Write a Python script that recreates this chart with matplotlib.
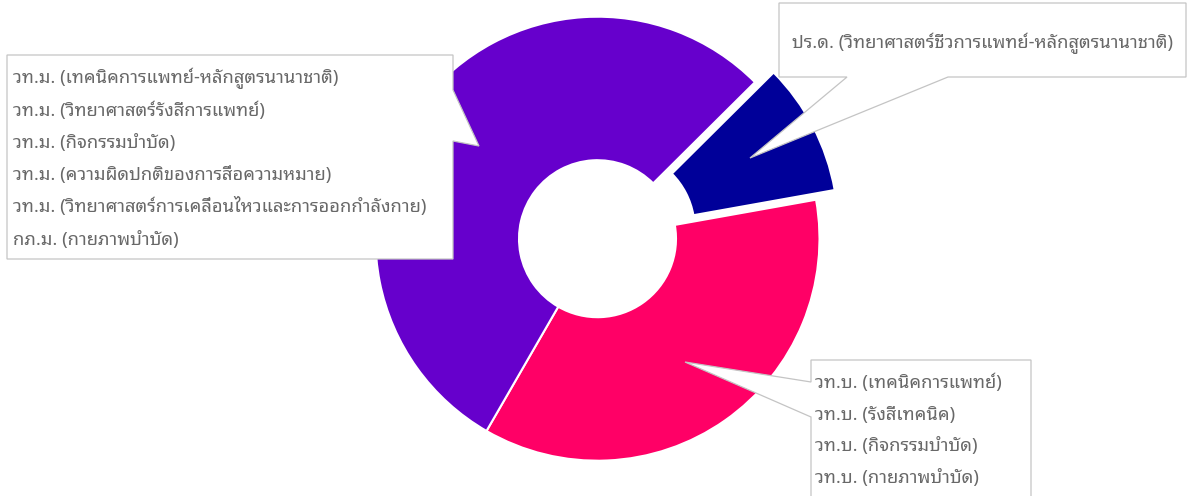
import matplotlib
matplotlib.use("Agg")
import matplotlib.pyplot as plt
from matplotlib.patches import Polygon

W, H = 1187, 496

# programme groups and their shares of the donut
groups = ["ป.ตรี", "ป.เอก", "ป.โท"]
values = [30, 8, 45]
colors = ["#FF0066", "#000099", "#6600CC"]
explode = [0, 21, 0]

master_labels = [
    "วท.ม. (เทคนิคการแพทย์-หลักสูตรนานาชาติ)",
    "วท.ม. (วิทยาศาสตร์รังสีการแพทย์)",
    "วท.ม. (กิจกรรมบำบัด)",
    "วท.ม. (ความผิดปกติของการสื่อความหมาย)",
    "วท.ม. (วิทยาศาสตร์การเคลื่อนไหวและการออกกำลังกาย)",
    "กภ.ม. (กายภาพบำบัด)",
]
phd_labels = ["ปร.ด. (วิทยาศาสตร์ชีวการแพทย์-หลักสูตรนานาชาติ)"]
bachelor_labels = [
    "วท.บ. (เทคนิคการแพทย์)",
    "วท.บ. (รังสีเทคนิค)",
    "วท.บ. (กิจกรรมบำบัด)",
    "วท.บ. (กายภาพบำบัด)",
]

FONT = ["Noto Sans Thai Looped", "DejaVu Sans"]
TEXT_COLOR = "#686868"
BORDER = "#c4c4c4"

fig = plt.figure(figsize=(W / 100, H / 100), dpi=100)
ax = fig.add_axes([0, 0, 1, 1])

R = 222
ax.pie(values, colors=colors, explode=explode, startangle=-120,
       counterclock=True, center=(597.5, H - 238.7), radius=R,
       wedgeprops=dict(width=R - 78.5, edgecolor="white", linewidth=1.5),
       frame=True)
ax.set_xlim(0, W)
ax.set_ylim(0, H)
ax.set_aspect("equal")
ax.axis("off")


def flip(pts):
    return [(x, H - y) for x, y in pts]


def callout(pts):
    ax.add_patch(Polygon(flip(pts), closed=True, facecolor="white",
                         edgecolor=BORDER, linewidth=0.9, zorder=5))


callout([(7, 55), (453, 55), (453, 90), (479, 146), (453, 141), (453, 259), (7, 259)])
callout([(779, 3), (1186, 3), (1186, 77), (948, 77), (750, 158), (847, 77), (779, 77)])
callout([(811, 360), (1031, 360), (1031, 505), (811, 505), (811, 417), (685, 362), (811, 382)])

# size the font so the first line matches the reference width
probe = ax.text(0, 0, master_labels[0], fontsize=12, family=FONT, fontweight="light")
fig.canvas.draw()
w = probe.get_window_extent().width
probe.remove()
fs = 12 * 324 / w

texts = []
for i, lab in enumerate(master_labels):
    texts.append((13, 83.5 + i * 32.2, lab))
for lab in phd_labels:
    texts.append((792, 48.5, lab))
for i, lab in enumerate(bachelor_labels):
    texts.append((815, 388 + i * 31.7, lab))

for x, y, lab in texts:
    ax.text(x, H - y, lab, fontsize=fs, family=FONT, fontweight="light",
            color=TEXT_COLOR, ha="left", va="baseline", zorder=6)

fig.savefig("out.png", dpi=100)
